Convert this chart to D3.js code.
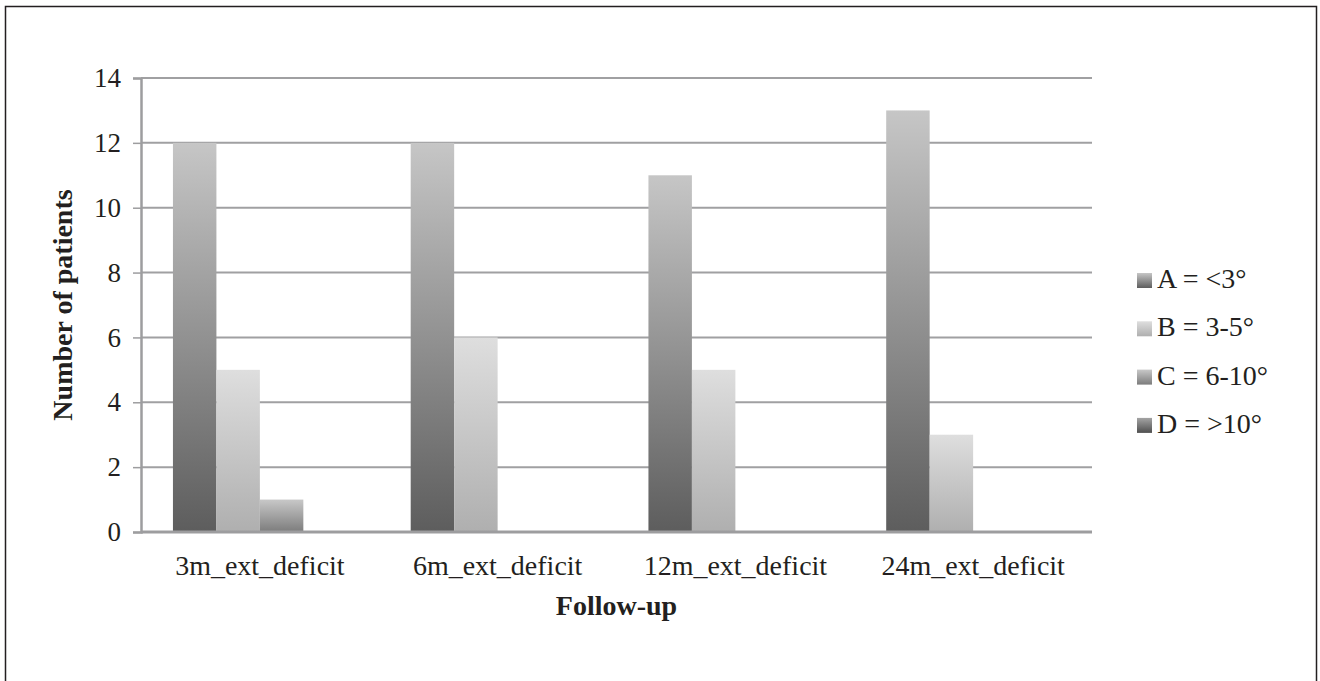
<!DOCTYPE html>
<html>
<head>
<meta charset="utf-8">
<script src="https://cdn.jsdelivr.net/npm/d3@7"></script>
<style>
  body { margin: 0; background: #fff; }
  text { font-family: "Liberation Serif", "Times New Roman", serif; fill: #231f20; }
</style>
</head>
<body>
<svg id="chart"></svg>
<script>
// Данные графика
const categories = ["3m_ext_deficit", "6m_ext_deficit", "12m_ext_deficit", "24m_ext_deficit"];
const seriesNames = ["A = <3°", "B = 3-5°", "C = 6-10°", "D = >10°"];
const valuesA = [12, 12, 11, 13];
const valuesB = [5, 6, 5, 3];
const valuesC = [1, 0, 0, 0];
const valuesD = [0, 0, 0, 0];
const yTicks = [0, 2, 4, 6, 8, 10, 12, 14];

// Градиенты для серий (верх -> низ)
const gradTop = ["#c6c6c6", "#dedede", "#c8c8c8", "#a4a4a4"];
const gradBottom = ["#5d5d5d", "#afafaf", "#7c7c7c", "#4f4f4f"];

const width = 1320, height = 681;
const margin = { left: 141, top: 78, right: 1320 - 1092, bottom: 681 - 532 };
const fontSize = "28px";

const svg = d3.select("#chart").attr("width", width).attr("height", height);

// Рамка вокруг рисунка
svg.append("rect")
    .attr("x", 5.5).attr("y", 6.5)
    .attr("width", 1311).attr("height", 700)
    .attr("fill", "none").attr("stroke", "#231f20").attr("stroke-width", 1.5);

const defs = svg.append("defs");
seriesNames.forEach((s, i) => {
    const g = defs.append("linearGradient")
        .attr("id", "grad" + i)
        .attr("x1", 0).attr("y1", 0).attr("x2", 0).attr("y2", 1);
    g.append("stop").attr("offset", "0%").attr("stop-color", gradTop[i]);
    g.append("stop").attr("offset", "100%").attr("stop-color", gradBottom[i]);
});

const x0 = d3.scaleBand()
    .domain(categories)
    .range([margin.left, width - margin.right])
    .paddingInner(0).paddingOuter(0);

const x1 = d3.scaleBand()
    .domain(d3.range(seriesNames.length))
    .range([0, x0.bandwidth()])
    .paddingOuter(0.735).paddingInner(0);

const y = d3.scaleLinear()
    .domain([0, 14])
    .range([height - margin.bottom, margin.top]);

// Линии сетки
svg.append("g")
    .selectAll("line")
    .data(yTicks.filter(d => d > 0))
    .enter()
    .append("line")
    .attr("x1", margin.left).attr("x2", width - margin.right)
    .attr("y1", d => y(d)).attr("y2", d => y(d))
    .attr("stroke", "#a0a0a2").attr("stroke-width", 2);

// Столбцы
const allValues = [valuesA, valuesB, valuesC, valuesD];
const groups = svg.append("g")
    .selectAll("g")
    .data(categories)
    .enter()
    .append("g")
    .attr("transform", d => `translate(${x0(d)},0)`);

groups.selectAll("rect")
    .data((c, ci) => allValues.map((vals, si) => ({ si, v: vals[ci] })))
    .enter()
    .append("rect")
    .attr("x", d => x1(d.si))
    .attr("width", x1.bandwidth())
    .attr("y", d => y(d.v))
    .attr("height", d => y(0) - y(d.v))
    .attr("fill", d => "url(#grad" + d.si + ")");

// Ось Y
const yAxis = d3.axisLeft(y).tickValues(yTicks).tickSize(8).tickPadding(12);
const gy = svg.append("g")
    .attr("transform", `translate(${margin.left},0)`)
    .call(yAxis);
gy.select(".domain").attr("stroke", "#9d9d9f").attr("stroke-width", 2.5);
gy.selectAll(".tick line").attr("stroke", "#9d9d9f").attr("stroke-width", 1.5);
gy.selectAll(".tick text")
    .style("font-family", "'Liberation Serif', serif")
    .style("font-size", "27px")
    .attr("fill", "#231f20");

// Базовая линия
svg.append("line")
    .attr("x1", margin.left).attr("x2", width - margin.right)
    .attr("y1", y(0)).attr("y2", y(0))
    .attr("stroke", "#9d9d9f").attr("stroke-width", 3);

// Подписи категорий
const xAxis = d3.axisBottom(x0).tickSize(0).tickPadding(23);
const gx = svg.append("g")
    .attr("transform", `translate(0,${y(0)})`)
    .call(xAxis);
gx.select(".domain").remove();
gx.selectAll(".tick text")
    .style("font-family", "'Liberation Serif', serif")
    .style("font-size", fontSize)
    .attr("fill", "#231f20");

// Заголовки осей
svg.append("text")
    .attr("x", (margin.left + width - margin.right) / 2)
    .attr("y", 615)
    .attr("text-anchor", "middle")
    .style("font-size", fontSize)
    .style("font-weight", "bold")
    .text("Follow-up");

svg.append("text")
    .attr("transform", `translate(72,${(y(0) + y(14)) / 2}) rotate(-90)`)
    .attr("text-anchor", "middle")
    .style("font-size", fontSize)
    .style("font-weight", "bold")
    .text("Number of patients");

// Легенда
const legend = svg.append("g")
    .selectAll("g")
    .data(seriesNames)
    .enter()
    .append("g")
    .attr("transform", (d, i) => `translate(1137,${280 + i * 48.3})`);

legend.append("rect")
    .attr("x", 0).attr("y", -7)
    .attr("width", 15).attr("height", 15)
    .attr("fill", (d, i) => "url(#grad" + i + ")");

legend.append("text")
    .attr("x", 20).attr("y", 8)
    .style("font-size", fontSize)
    .text(d => d);
</script>
</body>
</html>
